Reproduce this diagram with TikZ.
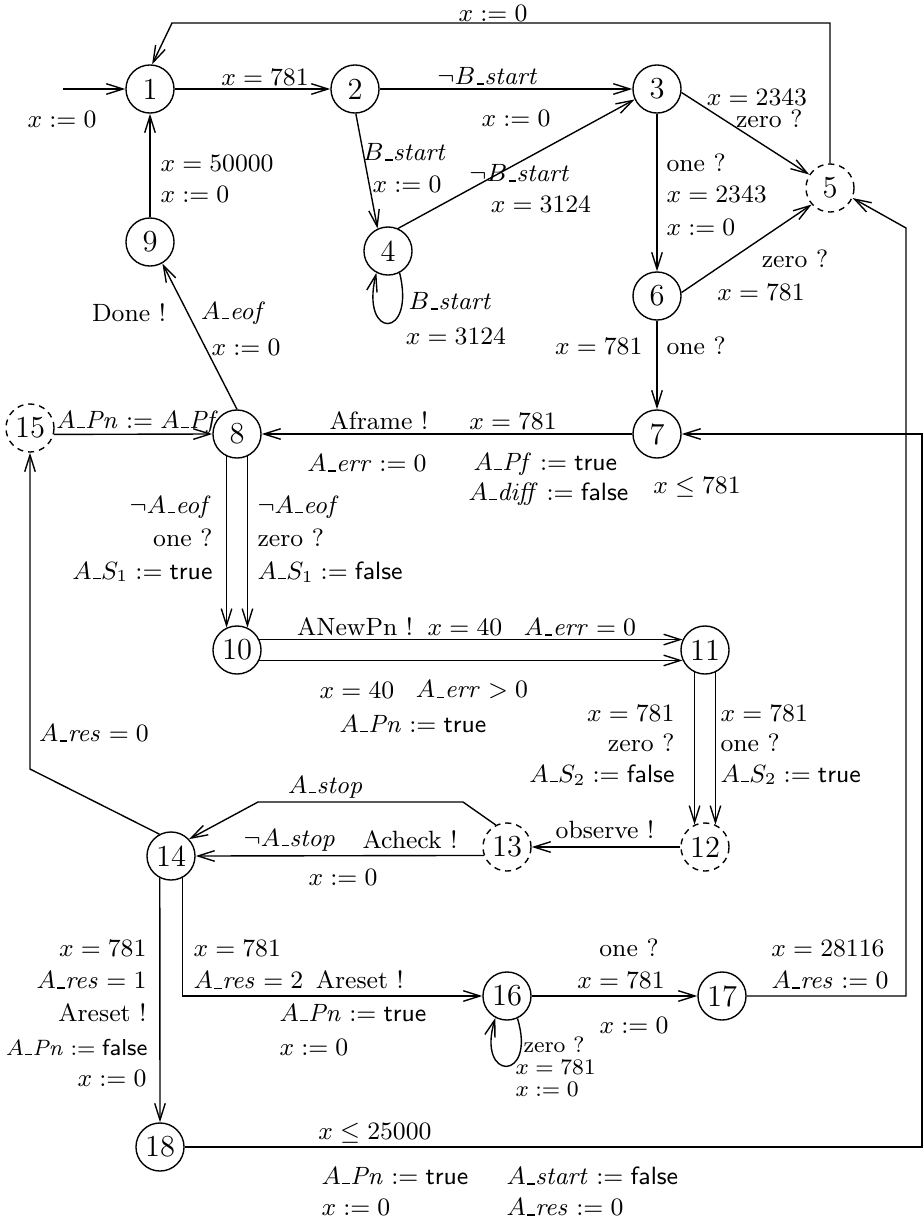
\documentclass[tikz,border=0pt]{standalone}
\usetikzlibrary{arrows.meta}
\newcommand{\us}{\mbox{\kern.06em\vbox{\hrule width.3em height 0.45pt}\kern.02em}}
\newcommand{\sn}[1]{\raisebox{-1.6pt}{#1}}
\begin{document}
\begin{tikzpicture}[x=0.36pt,y=-0.36pt,
  st/.style={circle,draw,minimum size=17.3pt,inner sep=0pt,line width=0.5pt,font=\fontsize{11}{13}\selectfont},
  dst/.style={st,dash pattern=on 2.2pt off 1.8pt},
  arr/.style={line width=0.5pt,-{Straight Barb[length=6pt,width=3.8pt,line width=0.5pt]}},
  lb/.style={inner sep=0pt,font=\fontsize{9}{11}\selectfont},
  slb/.style={inner sep=0pt,font=\fontsize{8}{9}\selectfont}]
\useasboundingbox (0,0) rectangle (923,1221);
% states
\node[st] (n1) at (150,89) {\sn{1}};
\node[st] (n2) at (355,89) {\sn{2}};
\node[st] (n3) at (657,89) {\sn{3}};
\node[st] (n4) at (388,251) {\sn{4}};
\node[dst] (n5) at (830,188) {\sn{5}};
\node[st] (n6) at (657,296) {\sn{6}};
\node[st] (n7) at (657,434) {\sn{7}};
\node[st] (n8) at (237,434) {\sn{8}};
\node[st] (n9) at (150,242) {\sn{9}};
\node[st] (n10) at (237,650) {\sn{10}};
\node[st] (n11) at (705,650) {\sn{11}};
\node[dst] (n12) at (705,847) {\sn{12}};
\node[dst] (n13) at (507,847) {\sn{13}};
\node[st] (n14) at (171,856) {\sn{14}};
\node[dst] (n15) at (30,428) {\sn{15}};
\node[st] (n16) at (507,996) {\sn{16}};
\node[st] (n17) at (722,996) {\sn{17}};
\node[st] (n18) at (160,1147) {\sn{18}};
% corner coordinates
\coordinate (c0) at (63,89);
\coordinate (c1) at (172,23);
\coordinate (c2) at (463,802);
\coordinate (c3) at (258,802);
\coordinate (c4) at (30,769);
\coordinate (c5) at (906,228);
\coordinate (c6) at (906,996);
\coordinate (c7) at (922,1147);
\coordinate (c8) at (922,434);
% edges
\draw[arr] (c0) -- (n1.west);
\draw[arr] (n1.east) -- (n2.west);
\draw[arr] (n2.east) -- (n3.west);
\draw[arr] (n2.272) -- (n4.115);
\draw[arr] (n4.66) -- (n3.205);
\draw[arr] (n4.-62) .. controls (416,340) and (360,340) .. (n4.-118);
\draw[arr] (n3.-8) -- (n5.147);
\draw[arr] (n3.south) -- (n6.north);
\draw[arr] (n6.8) -- (n5.222);
\draw[arr] (n6.south) -- (n7.north);
\draw[arr] (n5.north) |- (c1) -- (n1.85);
\draw[arr] (n9.north) -- (n1.south);
\draw[arr] (n8.north) -- (n9.-60);
\draw[arr] (n7.west) -- (n8.east);
\draw[arr] (n15.-15) -- (n8.west);
\draw[arr] (n8.245) -- (n10.115);
\draw[arr] (n8.295) -- (n10.65);
\draw[arr] (n10.25) -- (n11.155);
\draw[arr] (n10.-25) -- (n11.205);
\draw[arr] (n11.245) -- (n12.115);
\draw[arr] (n11.295) -- (n12.65);
\draw[arr] (n12.west) -- (n13.east);
\draw[arr] (n13.200) -- (n14.east);
\draw[arr] (n13.117) -- (c2) -- (c3) -- (n14.43);
\draw[arr] (n14.118) -- (c4) -- (n15.south);
\draw[arr] (n14.243) -- (n18.north);
\draw[arr] (n14.297) |- (n16.west);
\draw[arr] (n16.-65) .. controls (537,1082) and (476,1082) .. (n16.-118);
\draw[arr] (n16.east) -- (n17.west);
\draw[arr] (n17.east) -- (c6) -- (c5) -- (n5.-24);
\draw[arr] (n18.east) -- (c7) -- (c8) -- (n7.east);
% labels
\node[lb] (l1) at (62,119) {$x := 0$};
\node[lb] (l2) at (265,77) {$x = 781$};
\node[lb] (l3) at (488,76) {$\neg B\us\mathit{start}$};
\node[lb] (l4) at (516,118) {$x := 0$};
\node[lb] (l5) at (405,152) {$B\us\mathit{start}$};
\node[lb] (l6) at (407,184) {$x := 0$};
\node[lb] (l7) at (520,173) {$\neg B\us\mathit{start}$};
\node[lb] (l8) at (541,204) {$x = 3124$};
\node[lb,anchor=west] (l9) at (408,301) {$B\us\mathit{start}$};
\node[lb] (l10) at (456,336) {$x = 3124$};
\node[lb] (l11) at (757,97) {$x = 2343$};
\node[lb,anchor=east] (l12) at (803,119) {zero ?};
\node[lb,anchor=west] (l13) at (666,163) {one ?};
\node[lb,anchor=west] (l14) at (666,194) {$x = 2343$};
\node[lb,anchor=west] (l15) at (666,227) {$x := 0$};
\node[lb] (l16) at (795,259) {zero ?};
\node[lb] (l17) at (761,292) {$x = 781$};
\node[lb,anchor=east] (l18) at (643,346) {$x = 781$};
\node[lb,anchor=west] (l19) at (666,346) {one ?};
\node[lb] (l20) at (493,13) {$x := 0$};
\node[lb,anchor=west] (l21) at (160,163) {$x = 50000$};
\node[lb,anchor=west] (l22) at (160,194) {$x := 0$};
\node[lb] (l23) at (129,313) {Done !};
\node[lb] (l24) at (234,313) {$A\us\mathit{eof}$};
\node[lb] (l25) at (246,347) {$x := 0$};
\node[lb] (l26) at (379,421) {Aframe !};
\node[lb] (l27) at (513,421) {$x = 781$};
\node[lb] (l28) at (367,463) {$A\us\mathit{err} := 0$};
\node[lb,anchor=west] (l29) at (473,464) {$A\us\mathit{Pf} := \textsf{true}$};
\node[lb,anchor=west] (l30) at (468,494) {$A\us\mathit{diff} := \textsf{false}$};
\node[lb] (l31) at (697,487) {$x \le 781$};
\node[lb] (l32) at (138,422) {$A\us\mathit{Pn} := A\us\mathit{Pf}$};
\node[lb] (l33) at (94,733) {$A\us\mathit{res} = 0$};
\node[lb,anchor=east] (l34) at (213,507) {$\neg A\us\mathit{eof}$};
\node[lb,anchor=east] (l35) at (213,538) {one ?};
\node[lb,anchor=east] (l36) at (213,572) {$A\us S_1 := \textsf{true}$};
\node[lb,anchor=west] (l37) at (257,507) {$\neg A\us\mathit{eof}$};
\node[lb,anchor=west] (l38) at (257,538) {zero ?};
\node[lb,anchor=west] (l39) at (257,572) {$A\us S_1 := \textsf{false}$};
\node[lb] (l40) at (355,627) {ANewPn !};
\node[lb] (l41) at (465,627) {$x = 40$};
\node[lb] (l42) at (580,627) {$A\us\mathit{err} = 0$};
\node[lb] (l43) at (357,690) {$x = 40$};
\node[lb] (l44) at (472,690) {$A\us\mathit{err} > 0$};
\node[lb] (l45) at (413,724) {$A\us\mathit{Pn} := \textsf{true}$};
\node[lb,anchor=east] (l46) at (675,713) {$x = 781$};
\node[lb,anchor=east] (l47) at (675,743) {zero ?};
\node[lb,anchor=east] (l48) at (675,775) {$A\us S_2 := \textsf{false}$};
\node[lb,anchor=west] (l49) at (720,713) {$x = 781$};
\node[lb,anchor=west] (l50) at (720,743) {one ?};
\node[lb,anchor=west] (l51) at (720,775) {$A\us S_2 := \textsf{true}$};
\node[lb] (l52) at (605,830) {observe !};
\node[lb] (l53) at (326,787) {$A\us\mathit{stop}$};
\node[lb] (l54) at (290,840) {$\neg A\us\mathit{stop}$};
\node[lb] (l55) at (410,840) {Acheck !};
\node[lb] (l56) at (343,877) {$x := 0$};
\node[lb,anchor=east] (l57) at (147,948) {$x = 781$};
\node[lb,anchor=east] (l58) at (147,980) {$A\us\mathit{res} = 1$};
\node[lb,anchor=east] (l59) at (147,1013) {Areset !};
\node[lb,anchor=east,font=\fontsize{8.3}{10}\selectfont] (l60) at (148,1047) {$A\us\mathit{Pn} := \textsf{false}$};
\node[lb,anchor=east] (l61) at (147,1078) {$x := 0$};
\node[lb,anchor=west] (l62) at (193,948) {$x = 781$};
\node[lb,anchor=west] (l63) at (193,980) {$A\us\mathit{res} = 2$\enspace Areset !};
\node[lb,anchor=west] (l64) at (279,1013) {$A\us\mathit{Pn} := \textsf{true}$};
\node[lb,anchor=west] (l65) at (279,1047) {$x := 0$};
\node[slb,anchor=west] (l66) at (523,1045) {zero ?};
\node[slb,anchor=west] (l67) at (515,1067) {$x = 781$};
\node[slb,anchor=west] (l68) at (515,1089) {$x := 0$};
\node[lb] (l69) at (629,948) {one ?};
\node[lb] (l70) at (621,980) {$x = 781$};
\node[lb] (l71) at (634,1025) {$x := 0$};
\node[lb] (l72) at (828,948) {$x = 28116$};
\node[lb] (l73) at (830,980) {$A\us\mathit{res} := 0$};
\node[lb] (l74) at (375,1133) {$x \le 25000$};
\node[lb,anchor=west] (l75) at (321,1176) {$A\us\mathit{Pn} := \textsf{true}$};
\node[lb,anchor=west] (l76) at (321,1207) {$x := 0$};
\node[lb,anchor=west] (l77) at (506,1176) {$A\us\mathit{start} := \textsf{false}$};
\node[lb,anchor=west] (l78) at (506,1207) {$A\us\mathit{res} := 0$};
\end{tikzpicture}
\end{document}
